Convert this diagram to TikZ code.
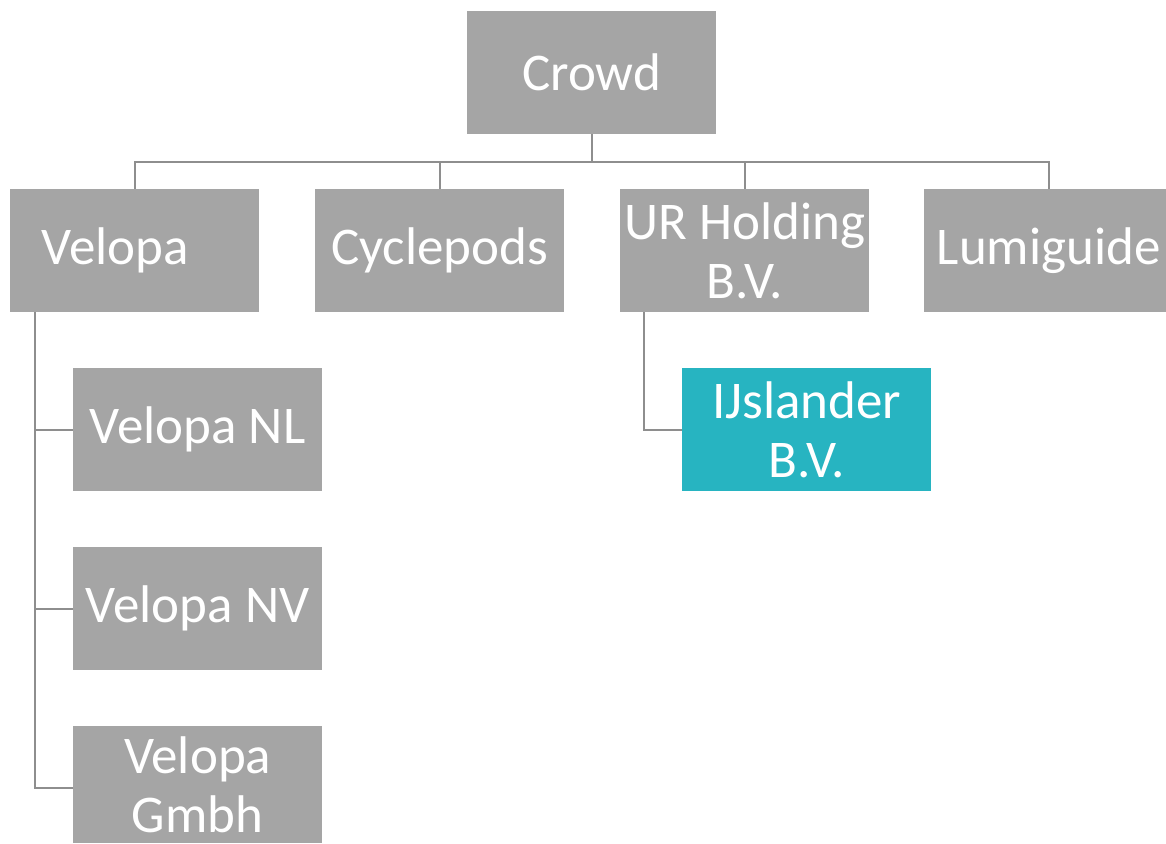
\documentclass[tikz,border=0pt]{standalone}
\usepackage{fontspec}
\setmainfont{Carlito}
\definecolor{boxgray}{HTML}{A5A5A5}
\definecolor{boxteal}{HTML}{27B4C1}
\definecolor{linegray}{HTML}{8E8E8E}
\tikzset{
  orgbox/.style={fill=boxgray, draw=none, minimum width=249pt, minimum height=123pt,
    inner sep=0pt, anchor=north west, text=white, align=center,
    font=\fontsize{53}{59}\selectfont},
  conn/.style={draw=linegray, line width=2pt}
}
\begin{document}
\begin{tikzpicture}[x=1pt,y=-1pt]
\useasboundingbox (0,0) rectangle (1166,843);
\clip (0,0) rectangle (1166,843);
\fill[white] (0,0) rectangle (1166,843);
\node[orgbox] (crowd) at (467,11) {Crowd};
\node[orgbox] (velopa) at (10,189) {Velopa\hspace{39pt}};
\node[orgbox] (cycle) at (315,189) {Cyclepods};
\node[orgbox] (ur) at (620,189) {UR Holding\\B.V.};
\node[orgbox] (lumi) at (924,189) {Lumiguide};
\node[orgbox] (vnl) at (73,368) {Velopa NL};
\node[orgbox] (vnv) at (73,547) {Velopa NV};
\node[orgbox, minimum height=117pt] (vgm) at (73,726) {Velopa\\Gmbh};
\node[orgbox, fill=boxteal] (ijs) at (682,368) {IJslander\\B.V.};
% connectors
\coordinate (hub) at ([yshift=-28pt]crowd.south);
\draw[conn] (crowd.south) -- (hub);
\draw[conn] (hub) -| (velopa.north);
\draw[conn] (hub) -| (cycle.north);
\draw[conn] (hub) -| (ur.north);
\draw[conn] (hub) -| (lumi.north);
\coordinate (vtop) at ([xshift=-99.5pt]velopa.south);
\draw[conn] (vtop) |- ([yshift=-3pt]vgm.west);
\draw[conn] (vtop) |- (vnl.west);
\draw[conn] (vtop) |- (vnv.west);
\coordinate (utop) at ([xshift=-101pt]ur.south);
\draw[conn] (utop) |- (ijs.west);
\end{tikzpicture}
\end{document}
